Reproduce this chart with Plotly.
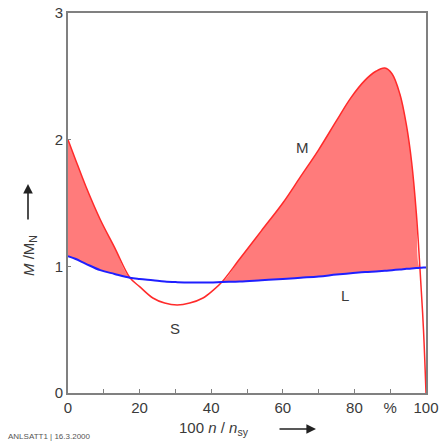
import numpy as np
import plotly.graph_objects as go

# speed in % of synchronous speed
speed = [0, 2, 5, 9, 13, 17.3, 20, 23.7, 27, 30.5, 34, 37.7, 40.5, 43, 48, 54,
         60, 65, 70, 75, 79, 83, 86, 88.5, 90.5, 92.7, 94.5, 96, 97.3, 98.3, 99.3, 100]
# motor torque M / M_N
motor = [2.0, 1.85, 1.63, 1.37, 1.15, 0.91, 0.84, 0.75, 0.71, 0.695, 0.71, 0.75, 0.81,
         0.876, 1.06, 1.28, 1.50, 1.71, 1.92, 2.15, 2.33, 2.47, 2.54, 2.565, 2.52,
         2.36, 2.12, 1.82, 1.42, 0.99, 0.5, 0.0]
# load torque L
load = [1.08, 1.06, 1.02, 0.97, 0.94, 0.91, 0.90, 0.89, 0.88, 0.875, 0.872, 0.872,
        0.873, 0.876, 0.88, 0.89, 0.90, 0.91, 0.92, 0.935, 0.945, 0.955, 0.96, 0.965,
        0.97, 0.975, 0.98, 0.983, 0.986, 0.988, 0.99, 0.99]

x_ticks = [0, 10, 20, 30, 40, 50, 60, 70, 80, 90, 100]
x_labels = ["0", "", "20", "", "40", "", "60", "", "80", "%", "100"]
y_ticks = [0, 1, 2, 3]

upper = np.maximum(np.array(motor), np.array(load))

fig = go.Figure()
# accelerating torque area (motor above load)
fig.add_trace(go.Scatter(x=speed, y=load, mode="lines", line=dict(width=0, shape="spline"),
                         hoverinfo="skip", showlegend=False))
fig.add_trace(go.Scatter(x=speed, y=upper, mode="lines", line=dict(width=0, shape="spline"),
                         fill="tonexty", fillcolor="#ff7b7b", hoverinfo="skip", showlegend=False))
fig.add_trace(go.Scatter(x=speed, y=motor, mode="lines",
                         line=dict(color="#ff2a2a", width=1.5, shape="spline"), showlegend=False))
fig.add_trace(go.Scatter(x=speed, y=load, mode="lines",
                         line=dict(color="#1f1fff", width=2, shape="spline"), showlegend=False))

txt = "#3a3a3a"
font = dict(family="Liberation Sans, Arial, sans-serif", size=15, color=txt)

fig.update_layout(
    width=441, height=445,
    margin=dict(l=68, r=15, t=13, b=52),
    paper_bgcolor="white", plot_bgcolor="white",
    font=font,
    xaxis=dict(range=[0, 100], tickvals=x_ticks, ticktext=x_labels, ticks="inside",
               ticklen=4, tickcolor="#808080", showgrid=False, zeroline=False,
               showline=True, linecolor="#808080", linewidth=2, mirror=True,
               tickfont=font, automargin=False),
    yaxis=dict(range=[0, 3], tickvals=y_ticks, ticks="inside", ticklen=3,
               tickcolor="#808080", showgrid=False, zeroline=False,
               showline=True, linecolor="#808080", linewidth=2, mirror=True,
               tickfont=font, automargin=False),
)


def px_x(px):
    return (px - 68) / 358


def px_y(py):
    return (393 - py) / 380


ann = [
    dict(x=65.6, y=1.94, text="M", xref="x", yref="y", showarrow=False, font=font),
    dict(x=77.4, y=0.77, text="L", xref="x", yref="y", showarrow=False, font=font),
    dict(x=29.9, y=0.51, text="S", xref="x", yref="y", showarrow=False, font=font),
    # axis titles
    dict(x=px_x(214), y=px_y(428), xref="paper", yref="paper", xanchor="center",
         yanchor="middle", text="100 <i>n</i> / <i>n</i><sub>sy</sub>",
         showarrow=False, font=font),
    dict(x=px_x(29), y=px_y(256), xref="paper", yref="paper", xanchor="center",
         yanchor="middle", text="<i>M</i> /M<sub>N</sub>", textangle=-90,
         showarrow=False, font=font),
    # direction arrows
    dict(x=px_x(316), y=px_y(429), xref="paper", yref="paper",
         ax=-38, ay=0, text="", showarrow=True, arrowhead=2, arrowsize=1.2,
         arrowwidth=1.6, arrowcolor="#222"),
    dict(x=px_x(28), y=px_y(184), xref="paper", yref="paper",
         ax=0, ay=37, text="", showarrow=True, arrowhead=2, arrowsize=1.2,
         arrowwidth=1.6, arrowcolor="#222"),
    # footnote
    dict(x=px_x(6), y=px_y(437), xref="paper", yref="paper",
         xanchor="left", yanchor="middle", text="ANLSATT1 | 16.3.2000", showarrow=False,
         font=dict(family="Liberation Sans, Arial, sans-serif", size=8, color="#555")),
]
fig.update_layout(annotations=ann)

fig.write_html("out.html")
